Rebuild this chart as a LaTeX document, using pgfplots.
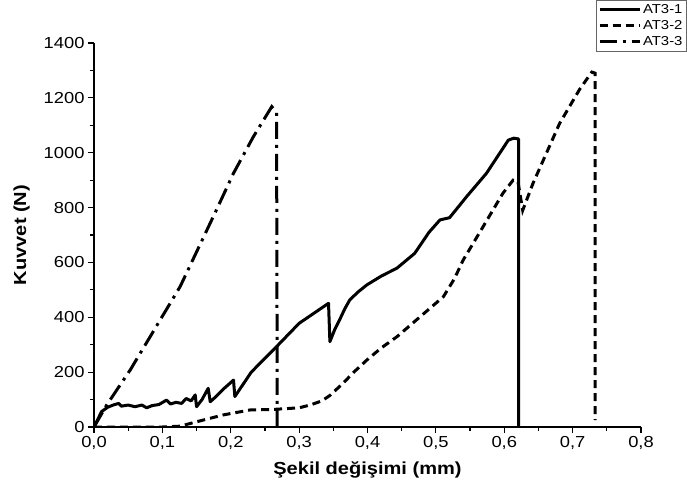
\documentclass[border=0pt]{standalone}
\usepackage{fontspec}
\setmainfont{Liberation Sans}[FakeStretch=1.15]
\usepackage{pgfplots}
\pgfplotsset{compat=1.18}
\begin{document}
\begin{tikzpicture}
\begin{axis}[name=ax,
  scale only axis, width=547bp, height=384bp,
  xmin=0, xmax=0.8, ymin=0, ymax=1400,
  axis lines=left,
  axis line style={-, line width=1.4bp},
  every tick/.style={black, line width=1.2bp},
  tick align=outside,
  major tick length=6bp, minor tick length=3.5bp,
  xtick={0,0.1,...,0.8}, ytick={0,200,...,1400},
  minor x tick num=1, minor y tick num=1,
  /pgf/number format/assume math mode=true,
  xticklabel style={/pgf/number format/.cd, use comma, fixed, fixed zerofill, precision=1},
  yticklabel style={/pgf/number format/.cd, fixed, 1000 sep={}},
  tick label style={font=\fontsize{16}{18}\selectfont},
  xlabel={\textbf{Şekil değişimi (mm)}},
  ylabel={\textbf{Kuvvet (N)}},
  label style={font=\fontsize{17.5}{20}\selectfont},
  xlabel style={yshift=-5bp},
  ylabel style={yshift=7bp},
  legend style={at={(1.084,1.112)}, anchor=north east, draw=black!60, line width=0.9bp,
    font=\fontsize{13}{14}\selectfont, row sep=1.5bp, inner sep=2bp},
  legend cell align=left,
  legend image code/.code={\draw[#1] (0bp,0bp) -- (40bp,0bp);},
]
\addplot[black, line width=3bp, line join=round] coordinates {
(0,0) (0.005,25) (0.011,56) (0.02,72) (0.028,80) (0.036,86) (0.040,76) (0.05,80)
(0.06,74) (0.07,80) (0.077,70) (0.085,78) (0.095,82) (0.106,98) (0.112,84) (0.12,90)
(0.128,86) (0.135,104) (0.142,95) (0.148,117) (0.150,74) (0.158,100) (0.167,141)
(0.170,92) (0.178,110) (0.19,140) (0.204,171) (0.206,111) (0.23,200) (0.267,293)
(0.3,378) (0.343,451) (0.345,311) (0.352,355) (0.36,395) (0.367,432) (0.374,463)
(0.386,492) (0.399,518) (0.42,550) (0.443,579) (0.469,633) (0.49,710) (0.506,755)
(0.52,763) (0.545,840) (0.574,925) (0.606,1046) (0.614,1053) (0.621,1050) (0.621,0)
};
\addlegendentry{AT3-1}
\addplot[black, line width=3bp, dash pattern=on 8bp off 5bp] coordinates {
(0,0) (0.05,0) (0.1,0) (0.126,3) (0.15,19) (0.189,44) (0.228,62) (0.262,64) (0.3,70)
(0.316,80) (0.333,95) (0.345,115) (0.364,159) (0.38,200) (0.399,244) (0.42,288)
(0.443,329) (0.477,402) (0.511,475) (0.527,540) (0.54,609) (0.569,730) (0.598,852)
(0.613,900) (0.62,895) (0.627,790) (0.642,888) (0.681,1107) (0.71,1230) (0.728,1294)
(0.733,1290) (0.733,25)
};
\addlegendentry{AT3-2}
\addplot[black, line width=3bp, dash pattern=on 17bp off 6bp on 3bp off 6bp] coordinates {
(0,0) (0.0185,80) (0.053,208) (0.126,512) (0.179,791) (0.204,925) (0.233,1058)
(0.26,1168) (0.267,1150) (0.268,0)
};
\addlegendentry{AT3-3}
\end{axis}
\pgfresetboundingbox
\path ([shift={(-94bp,-67bp)}]ax.south west) rectangle ([shift={(46bp,43bp)}]ax.north east);
\end{tikzpicture}
\end{document}
